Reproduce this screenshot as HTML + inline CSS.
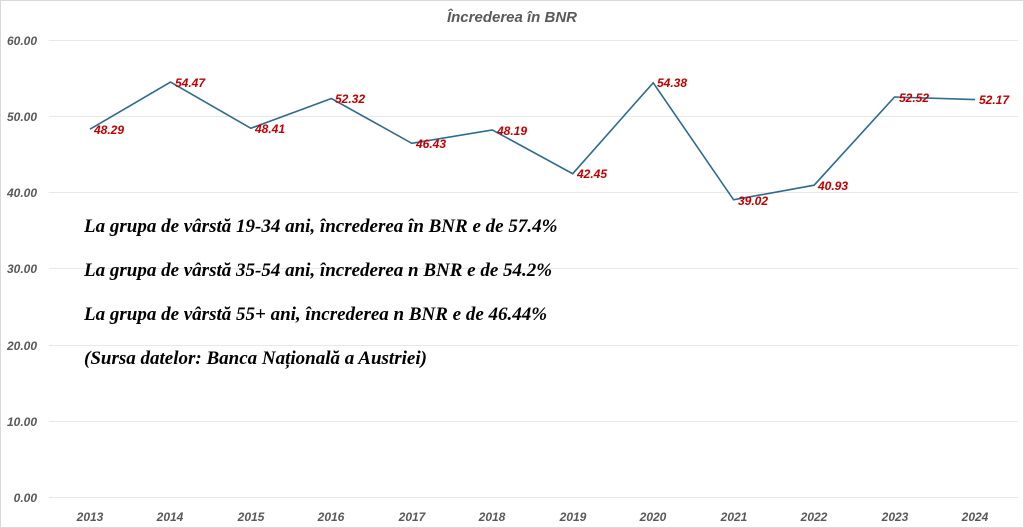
<!DOCTYPE html><html><head><style>body{margin:0;background:#fff}svg{display:block}</style></head><body>
<svg width="1024" height="528" xmlns="http://www.w3.org/2000/svg" font-family="Liberation Sans, sans-serif">
<rect x="0.5" y="0.5" width="1023" height="527" fill="#fff" stroke="#d9d9d9"/>
<text x="512" y="22" text-anchor="middle" font-size="15" font-style="italic" font-weight="bold" fill="#595959">Încrederea în BNR</text>
<g stroke="#e8e8e8" stroke-width="1">
<line x1="49" x2="1018" y1="40.5" y2="40.5"/><line x1="49" x2="1018" y1="116.5" y2="116.5"/><line x1="49" x2="1018" y1="192.5" y2="192.5"/><line x1="49" x2="1018" y1="268.5" y2="268.5"/><line x1="49" x2="1018" y1="345.5" y2="345.5"/><line x1="49" x2="1018" y1="421.5" y2="421.5"/><line x1="49" x2="1018" y1="497.5" y2="497.5"/></g>
<g font-size="12" font-weight="bold" font-style="italic" fill="#595959" text-anchor="end">
<text x="37" y="45">60.00</text><text x="37" y="121">50.00</text><text x="37" y="197">40.00</text><text x="37" y="273">30.00</text><text x="37" y="350">20.00</text><text x="37" y="426">10.00</text><text x="37" y="502">0.00</text></g>
<g font-size="12" font-weight="bold" font-style="italic" fill="#595959" text-anchor="middle">
<text x="90" y="521">2013</text><text x="170" y="521">2014</text><text x="251" y="521">2015</text><text x="331" y="521">2016</text><text x="412" y="521">2017</text><text x="492" y="521">2018</text><text x="573" y="521">2019</text><text x="653" y="521">2020</text><text x="734" y="521">2021</text><text x="814" y="521">2022</text><text x="895" y="521">2023</text><text x="975" y="521">2024</text></g>
<polyline fill="none" stroke="#2e6b8c" stroke-width="1.6" points="90,129.2 170.5,82.1 250.9,128.3 331.4,98.5 411.8,143.3 492.3,129.9 572.7,173.7 653.2,82.8 733.6,199.8 814.1,185.2 894.5,97 975,99.6"/>
<g font-size="12" font-weight="bold" font-style="italic" fill="#c00000">
<text x="94" y="134">48.29</text><text x="175" y="87">54.47</text><text x="255" y="133">48.41</text><text x="335" y="103">52.32</text><text x="416" y="148">46.43</text><text x="497" y="135">48.19</text><text x="577" y="178">42.45</text><text x="657" y="87">54.38</text><text x="738" y="205">39.02</text><text x="818" y="190">40.93</text><text x="899" y="102">52.52</text><text x="979" y="104">52.17</text></g>
<g font-family="Liberation Serif, serif" font-size="19" font-weight="bold" font-style="italic" fill="#000">
<text x="84" y="232">La grupa de vârstă 19-34 ani, încrederea în BNR e de 57.4%</text>
<text x="84" y="276">La grupa de vârstă 35-54 ani, încrederea n BNR e de 54.2%</text>
<text x="84" y="320">La grupa de vârstă 55+ ani, încrederea n BNR e de 46.44%</text>
<text x="84" y="364">(Sursa datelor: Banca Națională a Austriei)</text></g>
</svg></body></html>
